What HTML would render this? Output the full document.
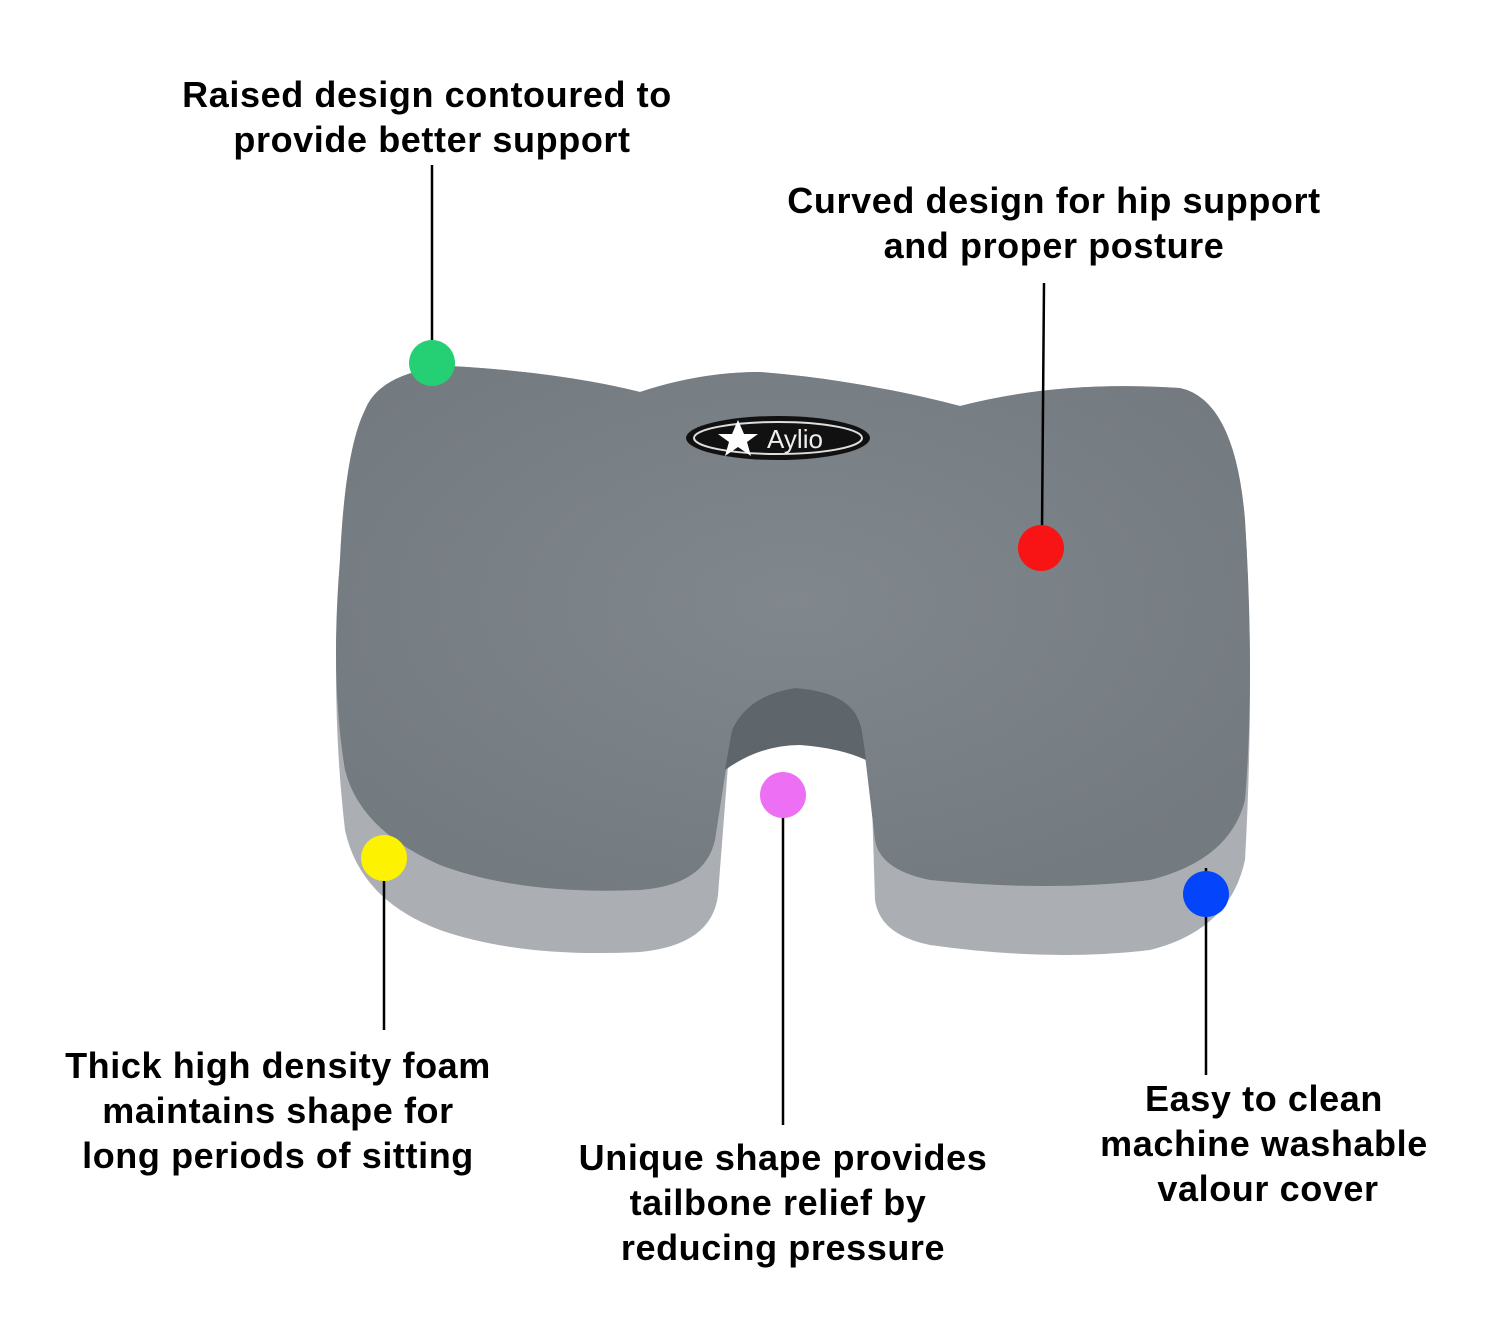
<!DOCTYPE html>
<html><head><meta charset="utf-8"><style>
html,body{margin:0;padding:0;background:#fff;}
svg{display:block}
text{font-family:"Liberation Sans",Arial,sans-serif;font-weight:bold;font-size:36px;letter-spacing:0.6px;fill:#000;text-anchor:middle}
</style></head><body>
<svg width="1500" height="1317" viewBox="0 0 1500 1317" xmlns="http://www.w3.org/2000/svg">
<defs>
<radialGradient id="tg" cx="0.5" cy="0.45" r="0.6">
<stop offset="0" stop-color="#80878d"/><stop offset="1" stop-color="#737a80"/>
</radialGradient>
</defs>
<path d="M365,410 Q380,372 450,366 Q560,372 640,392 Q700,372 760,372 Q860,380 960,406 Q1060,380 1180,388 Q1235,400 1245,520 Q1255,680 1245,860 Q1230,930 1150,950 Q1050,962 930,945 Q880,935 875,900 L870,740 Q860,700 800,690 Q750,695 730,740 L718,895 Q712,945 640,952 Q520,958 440,930 Q360,900 345,830 Q330,700 340,560 Q345,450 365,410 Z" fill="#abafb3"/>
<path d="M365,410 Q380,372 450,366 Q560,372 640,392 Q700,372 760,372 Q860,380 960,406 Q1060,380 1180,388 Q1235,400 1245,520 Q1255,680 1245,800 Q1230,860 1150,880 Q1050,892 930,880 Q880,870 875,840 L862,730 Q855,692 795,688 Q748,695 732,730 L715,840 Q705,885 640,890 Q520,895 440,865 Q360,830 345,770 Q330,680 340,560 Q345,450 365,410 Z" fill="url(#tg)"/>
<path d="M795,688 Q748,695 732,730 L725,770 Q760,745 800,745 Q840,748 866,760 L862,730 Q855,692 795,688 Z" fill="#5e656b"/>
<ellipse cx="778" cy="438" rx="92" ry="22" fill="#111"/>
<ellipse cx="778" cy="438" rx="84" ry="16" fill="none" stroke="#ddd" stroke-width="2"/>
<text x="795" y="448" style="font-size:26px;fill:#eee;font-weight:normal;letter-spacing:0">Aylio</text>
<polygon points="738,420 744,434 758,434 747,442 751,456 738,447 725,456 729,442 718,434 732,434" fill="#fff"/>
<g stroke="#000" stroke-width="2.5">
<line x1="432" y1="165" x2="432" y2="345"/>
<line x1="1044" y1="283" x2="1042" y2="530"/>
<line x1="384" y1="870" x2="384" y2="1030"/>
<line x1="783" y1="810" x2="783" y2="1125"/>
<line x1="1206" y1="868" x2="1206" y2="1075"/>
</g>
<circle cx="432" cy="363" r="23" fill="#25cf73"/>
<circle cx="1041" cy="548" r="23" fill="#f81414"/>
<circle cx="384" cy="858" r="23" fill="#fdf200"/>
<circle cx="783" cy="795" r="23" fill="#ec6ff4"/>
<circle cx="1206" cy="894" r="23" fill="#0445fb"/>
<text x="427" y="107">Raised design contoured to</text>
<text x="432" y="152">provide better support</text>
<text x="1054" y="213">Curved design for hip support</text>
<text x="1054" y="258">and proper posture</text>
<text x="278" y="1078">Thick high density foam</text>
<text x="278" y="1123">maintains shape for</text>
<text x="278" y="1168">long periods of sitting</text>
<text x="783" y="1170">Unique shape provides</text>
<text x="778" y="1215">tailbone relief by</text>
<text x="783" y="1260">reducing pressure</text>
<text x="1264" y="1111">Easy to clean</text>
<text x="1264" y="1156">machine washable</text>
<text x="1268" y="1201">valour cover</text>
</svg>
</body></html>
